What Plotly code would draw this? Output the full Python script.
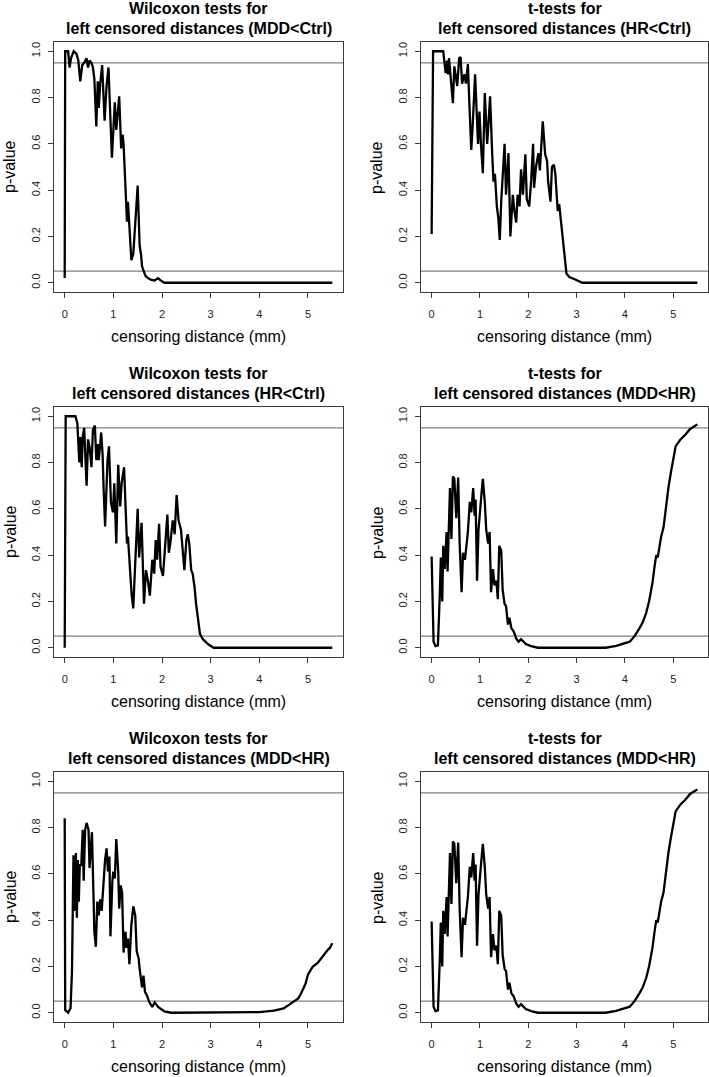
import plotly.graph_objects as go

# ---------------- data (censoring distance in mm, p-value) ----------------
w_mdd_ctrl = [(0, 0.02), (0.01, 1.0), (0.07, 1.0), (0.1, 0.93), (0.13, 0.97), (0.185, 1.0), (0.24, 0.99),
              (0.28, 0.96), (0.32, 0.87), (0.36, 0.94), (0.4, 0.95), (0.45, 0.97), (0.48, 0.93), (0.51, 0.96),
              (0.55, 0.95), (0.58, 0.93), (0.61, 0.88), (0.65, 0.675), (0.68, 0.87), (0.7, 0.755), (0.73, 0.86),
              (0.77, 0.94), (0.82, 0.70), (0.86, 0.85), (0.9, 0.93), (0.97, 0.54), (1.0, 0.66), (1.03, 0.78),
              (1.06, 0.66), (1.09, 0.75), (1.12, 0.805), (1.16, 0.58), (1.19, 0.64), (1.21, 0.60), (1.23, 0.495),
              (1.26, 0.36), (1.28, 0.264), (1.3, 0.35), (1.32, 0.26), (1.37, 0.098), (1.41, 0.125), (1.45, 0.28),
              (1.5, 0.42), (1.54, 0.16), (1.57, 0.12), (1.59, 0.07), (1.62, 0.048), (1.66, 0.03), (1.71, 0.02),
              (1.78, 0.012), (1.85, 0.01), (1.92, 0.02), (1.97, 0.01), (2.05, 0.0), (5.5, 0.0)]

t_hr_ctrl = [(0, 0.21), (0.03, 1.0), (0.24, 1.0), (0.29, 0.906), (0.32, 0.96), (0.34, 0.90), (0.36, 0.97),
             (0.4, 0.865), (0.44, 0.776), (0.47, 0.935), (0.5, 0.88), (0.53, 0.85), (0.57, 0.97), (0.6, 0.975),
             (0.63, 0.86), (0.68, 0.90), (0.71, 0.86), (0.75, 0.945), (0.78, 0.78), (0.82, 0.574), (0.85, 0.68),
             (0.9, 0.90), (0.96, 0.60), (0.99, 0.74), (1.02, 0.60), (1.06, 0.473), (1.1, 0.82), (1.15, 0.60),
             (1.18, 0.70), (1.21, 0.805), (1.25, 0.574), (1.28, 0.437), (1.31, 0.47), (1.35, 0.329), (1.38, 0.28),
             (1.41, 0.185), (1.44, 0.35), (1.51, 0.60), (1.54, 0.38), (1.59, 0.56), (1.63, 0.20), (1.68, 0.38),
             (1.71, 0.315), (1.75, 0.26), (1.78, 0.38), (1.82, 0.33), (1.85, 0.49), (1.89, 0.38), (1.94, 0.555),
             (1.97, 0.36), (2.02, 0.33), (2.06, 0.44), (2.1, 0.60), (2.12, 0.41), (2.16, 0.50), (2.21, 0.56),
             (2.24, 0.485), (2.3, 0.697), (2.35, 0.555), (2.39, 0.525), (2.41, 0.44), (2.46, 0.35), (2.49, 0.50),
             (2.53, 0.51), (2.56, 0.47), (2.61, 0.31), (2.64, 0.34), (2.68, 0.25), (2.71, 0.18), (2.75, 0.12),
             (2.79, 0.04), (2.85, 0.025), (2.96, 0.015), (3.06, 0.004), (3.12, 0.0), (5.5, 0.0)]

w_hr_ctrl = [(0, 0.0), (0.02, 1.0), (0.22, 1.0), (0.26, 0.97), (0.3, 0.80), (0.32, 0.91), (0.35, 0.78),
             (0.37, 0.91), (0.4, 0.95), (0.42, 0.85), (0.45, 0.70), (0.48, 0.90), (0.51, 0.87), (0.55, 0.78),
             (0.58, 0.94), (0.62, 0.96), (0.65, 0.81), (0.68, 0.88), (0.7, 0.81), (0.75, 0.93), (0.78, 0.83),
             (0.8, 0.686), (0.83, 0.524), (0.85, 0.64), (0.88, 0.81), (0.91, 0.87), (0.95, 0.63), (0.99, 0.585),
             (1.02, 0.71), (1.06, 0.45), (1.1, 0.79), (1.14, 0.61), (1.17, 0.71), (1.22, 0.78), (1.26, 0.55),
             (1.28, 0.45), (1.3, 0.48), (1.33, 0.35), (1.36, 0.28), (1.38, 0.22), (1.41, 0.17), (1.44, 0.32),
             (1.5, 0.60), (1.53, 0.39), (1.58, 0.54), (1.63, 0.19), (1.67, 0.335), (1.71, 0.29), (1.75, 0.225),
             (1.8, 0.38), (1.84, 0.32), (1.87, 0.465), (1.9, 0.38), (1.94, 0.535), (1.97, 0.35), (2.02, 0.31),
             (2.06, 0.43), (2.11, 0.575), (2.14, 0.41), (2.17, 0.45), (2.22, 0.55), (2.26, 0.49), (2.3, 0.66),
             (2.34, 0.55), (2.39, 0.51), (2.42, 0.43), (2.46, 0.335), (2.5, 0.465), (2.53, 0.49), (2.56, 0.45),
             (2.6, 0.335), (2.63, 0.32), (2.67, 0.26), (2.7, 0.19), (2.74, 0.13), (2.78, 0.06), (2.84, 0.037),
             (2.95, 0.015), (3.06, 0.0), (5.5, 0.0)]

t_mdd_hr = [(0, 0.394), (0.04, 0.026), (0.08, 0.007), (0.13, 0.01), (0.17, 0.235), (0.19, 0.39), (0.22, 0.20),
            (0.24, 0.44), (0.27, 0.34), (0.31, 0.50), (0.33, 0.33), (0.35, 0.52), (0.38, 0.69), (0.41, 0.47),
            (0.44, 0.74), (0.47, 0.73), (0.51, 0.56), (0.55, 0.735), (0.58, 0.45), (0.62, 0.24), (0.65, 0.41),
            (0.69, 0.38), (0.72, 0.44), (0.75, 0.50), (0.79, 0.63), (0.82, 0.585), (0.86, 0.69), (0.89, 0.57),
            (0.91, 0.64), (0.94, 0.29), (0.97, 0.51), (1.0, 0.57), (1.03, 0.66), (1.06, 0.73), (1.1, 0.63),
            (1.13, 0.51), (1.17, 0.45), (1.2, 0.50), (1.23, 0.24), (1.27, 0.34), (1.3, 0.27), (1.34, 0.29),
            (1.37, 0.21), (1.4, 0.44), (1.44, 0.42), (1.47, 0.25), (1.51, 0.19), (1.54, 0.18), (1.58, 0.10),
            (1.61, 0.13), (1.65, 0.085), (1.7, 0.07), (1.75, 0.04), (1.8, 0.026), (1.85, 0.037), (1.95, 0.016),
            (2.06, 0.007), (2.2, 0.0), (3.6, 0.0), (3.82, 0.008), (4.0, 0.02), (4.1, 0.026), (4.2, 0.05),
            (4.25, 0.065), (4.3, 0.084), (4.37, 0.11), (4.44, 0.15), (4.5, 0.20), (4.57, 0.28), (4.62, 0.36),
            (4.65, 0.40), (4.68, 0.39), (4.72, 0.45), (4.75, 0.48), (4.8, 0.52), (4.85, 0.61), (4.9, 0.69),
            (4.95, 0.755), (5.0, 0.82), (5.05, 0.87), (5.15, 0.90), (5.25, 0.92), (5.35, 0.945), (5.47, 0.962),
            (5.5, 0.965)]

w_mdd_hr = [(0, 0.84), (0.01, 0.012), (0.07, 0.0), (0.12, 0.02), (0.15, 0.18), (0.18, 0.68), (0.2, 0.44),
            (0.23, 0.69), (0.25, 0.41), (0.27, 0.66), (0.29, 0.48), (0.31, 0.64), (0.34, 0.635), (0.37, 0.79),
            (0.39, 0.57), (0.42, 0.79), (0.45, 0.82), (0.49, 0.79), (0.51, 0.625), (0.56, 0.78), (0.59, 0.52),
            (0.61, 0.35), (0.64, 0.285), (0.67, 0.48), (0.7, 0.42), (0.73, 0.49), (0.76, 0.44), (0.8, 0.60),
            (0.83, 0.66), (0.86, 0.71), (0.89, 0.61), (0.92, 0.675), (0.94, 0.33), (0.98, 0.57), (1.0, 0.61),
            (1.03, 0.58), (1.06, 0.75), (1.1, 0.61), (1.12, 0.45), (1.15, 0.55), (1.18, 0.52), (1.21, 0.26),
            (1.25, 0.35), (1.27, 0.28), (1.3, 0.32), (1.33, 0.21), (1.37, 0.38), (1.41, 0.46), (1.45, 0.42),
            (1.48, 0.265), (1.52, 0.235), (1.54, 0.19), (1.59, 0.11), (1.62, 0.16), (1.65, 0.09), (1.69, 0.075),
            (1.74, 0.045), (1.8, 0.025), (1.85, 0.045), (1.92, 0.025), (2.05, 0.006), (2.19, 0.0), (3.8, 0.0),
            (4.0, 0.003), (4.3, 0.009), (4.5, 0.019), (4.6, 0.033), (4.7, 0.046), (4.8, 0.062), (4.85, 0.08),
            (4.9, 0.105), (4.95, 0.125), (5.0, 0.165), (5.05, 0.18), (5.1, 0.20), (5.2, 0.215), (5.25, 0.23),
            (5.3, 0.245), (5.4, 0.27), (5.45, 0.28), (5.5, 0.30)]

thresholds = [0.05, 0.95]
x_ticks = [0, 1, 2, 3, 4, 5]
y_ticks = [0.0, 0.2, 0.4, 0.6, 0.8, 1.0]

panels = [
    ("Wilcoxon tests for", "left censored distances (MDD<Ctrl)", w_mdd_ctrl),
    ("t-tests for", "left censored distances (HR<Ctrl)", t_hr_ctrl),
    ("Wilcoxon tests for", "left censored distances (HR<Ctrl)", w_hr_ctrl),
    ("t-tests for", "left censored distances (MDD<HR)", t_mdd_hr),
    ("Wilcoxon tests for", "left censored distances (MDD<HR)", w_mdd_hr),
    ("t-tests for", "left censored distances (MDD<HR)", t_mdd_hr),
]

# ---------------- layout geometry (pixels) ----------------
W, H = 709, 1077
cols = [(54, 343), (421, 708)]
rows = [(42, 292), (407, 657), (772, 1022)]
FONT = "Liberation Sans, Arial, Helvetica, sans-serif"


def px_x(p):
    return p / W


def px_y(p):
    return 1 - p / H


fig = go.Figure()
annotations = []
shapes = []

for i, (t1, t2, pts) in enumerate(panels):
    r, c = divmod(i, 2)
    x0, x1 = cols[c]
    y0, y1 = rows[r]
    n = i + 1
    xa = "xaxis" if n == 1 else f"xaxis{n}"
    ya = "yaxis" if n == 1 else f"yaxis{n}"
    xref = "x" if n == 1 else f"x{n}"
    yref = "y" if n == 1 else f"y{n}"

    xs = [p[0] for p in pts]
    ys = [p[1] for p in pts]
    fig.add_trace(go.Scatter(x=xs, y=ys, mode="lines", xaxis=xref, yaxis=yref,
                             line=dict(color="black", width=2.3), showlegend=False,
                             hoverinfo="skip"))

    common = dict(showline=True, mirror=True, linecolor="#3a3a3a", linewidth=1,
                  ticks="outside", ticklen=5, tickwidth=1, tickcolor="#3a3a3a",
                  showgrid=False, zeroline=False, fixedrange=True,
                  tickfont=dict(family=FONT, size=11, color="#222"))
    fig.layout[xa] = dict(common, domain=[px_x(x0), px_x(x1)], anchor=yref,
                          range=[-0.22, 5.72], tickvals=x_ticks, ticklabelstandoff=7)
    fig.layout[ya] = dict(common, domain=[px_y(y1), px_y(y0)], anchor=xref,
                          range=[-0.04, 1.04], tickvals=y_ticks, tickformat=".1f",
                          tickangle=-90, ticklabelstandoff=4)

    for th in thresholds:
        shapes.append(dict(type="line", xref=f"{xref} domain", yref=yref, x0=0, x1=1,
                           y0=th, y1=th, line=dict(color="#808080", width=1.2), layer="below"))

    cx = px_x((x0 + x1) / 2)
    annotations.append(dict(text=f"<b>{t1}</b>", x=cx, y=px_y(y0 - 33.7), xref="paper", yref="paper",
                            xanchor="center", yanchor="middle", showarrow=False,
                            font=dict(family=FONT, size=16, color="black")))
    annotations.append(dict(text=f"<b>{t2}</b>", x=cx, y=px_y(y0 - 13.7), xref="paper", yref="paper",
                            xanchor="center", yanchor="middle", showarrow=False,
                            font=dict(family=FONT, size=16, color="black")))
    annotations.append(dict(text="censoring distance (mm)", x=cx, y=px_y(y1 + 44.7),
                            xref="paper", yref="paper", xanchor="center", yanchor="middle",
                            showarrow=False, font=dict(family=FONT, size=16, color="black")))
    annotations.append(dict(text="p-value", x=px_x(x0 - 44), y=px_y((y0 + y1) / 2),
                            xref="paper", yref="paper", xanchor="center", yanchor="middle",
                            textangle=-90, showarrow=False,
                            font=dict(family=FONT, size=16, color="black")))

fig.update_layout(width=W, height=H, margin=dict(l=0, r=0, t=0, b=0),
                  paper_bgcolor="white", plot_bgcolor="white",
                  annotations=annotations, shapes=shapes, showlegend=False)

fig.write_html("out.html", config={"displayModeBar": False, "staticPlot": True},
               post_script="document.body.style.margin='0';document.body.style.padding='0';"
                           "document.body.style.overflow='hidden';")
